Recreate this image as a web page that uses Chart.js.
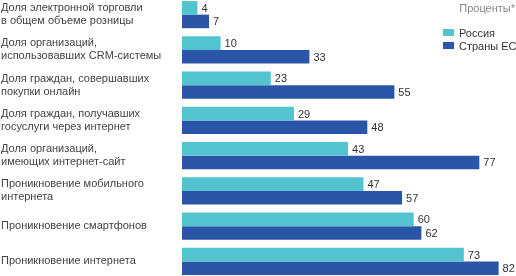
<!DOCTYPE html>
<html>
<head>
<meta charset="utf-8">
<script src="https://cdn.jsdelivr.net/npm/chart.js@4/dist/chart.umd.min.js"></script>
<style>
	body { margin: 0; background: #fff; font-family: "Liberation Sans", Arial, sans-serif; }
	#wrap { position: absolute; left: 0; top: -3px; width: 516px; height: 282px; }
	.unit { position: absolute; right: 1px; top: 2px; font-size: 11px; color: #888; }
	.leg { position: absolute; left: 443px; font-size: 11px; color: #333; line-height: 13px; white-space: nowrap; }
	.leg span { display: inline-block; width: 11px; height: 7px; margin-right: 5px; vertical-align: 1px; }
</style>
</head>
<body>
<div id="wrap"><canvas id="chart"></canvas></div>
<div class="unit">Проценты*</div>
<div class="leg" style="top:27px"><span style="background:#52c3cf"></span>Россия</div>
<div class="leg" style="top:40px"><span style="background:#2b56a8"></span>Страны ЕС</div>
<script>
let categories = [
	['Доля электронной торговли', 'в общем объеме розницы'],
	['Доля организаций,', 'использовавших CRM-системы'],
	['Доля граждан, совершавших', 'покупки онлайн'],
	['Доля граждан, получавших', 'госуслуги через интернет'],
	['Доля организаций,', 'имеющих интернет-сайт'],
	['Проникновение мобильного', 'интернета'],
	'Проникновение смартфонов',
	'Проникновение интернета'
];
let russia = [4, 10, 23, 29, 43, 47, 60, 73];
let eu = [7, 33, 55, 48, 77, 57, 62, 82];
let seriesNames = ['Россия', 'Страны ЕС'];
let colors = ['#52c3cf', '#2b56a8'];

// draws the numbers right after each bar
const valueLabels = {
	id: 'valueLabels',
	afterDatasetsDraw(chart) {
		let ctx = chart.ctx;
		ctx.save();
		ctx.font = '11px "Liberation Sans", Arial, sans-serif';
		ctx.fillStyle = '#333';
		ctx.textAlign = 'left';
		ctx.textBaseline = 'middle';
		chart.data.datasets.forEach((ds, i) => {
			chart.getDatasetMeta(i).data.forEach((bar, j) => {
				ctx.fillText(ds.data[j], bar.x + 4, bar.y + 1);
			});
		});
		ctx.restore();
	}
};

new Chart(document.getElementById('chart'), {
	type: 'bar',
	data: {
		labels: categories,
		datasets: [
			{ label: seriesNames[0], data: russia, backgroundColor: colors[0] },
			{ label: seriesNames[1], data: eu, backgroundColor: colors[1] }
		]
	},
	options: {
		indexAxis: 'y',
		responsive: true,
		maintainAspectRatio: false,
		animation: false,
		categoryPercentage: 0.77,
		barPercentage: 1,
		layout: { padding: { left: 1, right: 0, top: 0, bottom: 0 } },
		plugins: { legend: { display: false }, tooltip: { enabled: false } },
		scales: {
			x: { display: false, min: 0, max: 86.5 },
			y: {
				grid: { display: false },
				border: { display: false },
				afterFit: (scale) => {
					scale.width = 181;
					scale.paddingTop = 0;
					scale.paddingBottom = 0;
				},
				ticks: {
					crossAlign: 'far',
					color: '#444',
					font: { family: '"Liberation Sans", Arial, sans-serif', size: 11, lineHeight: 1.18 }
				}
			}
		}
	},
	plugins: [valueLabels]
});
</script>
</body>
</html>
